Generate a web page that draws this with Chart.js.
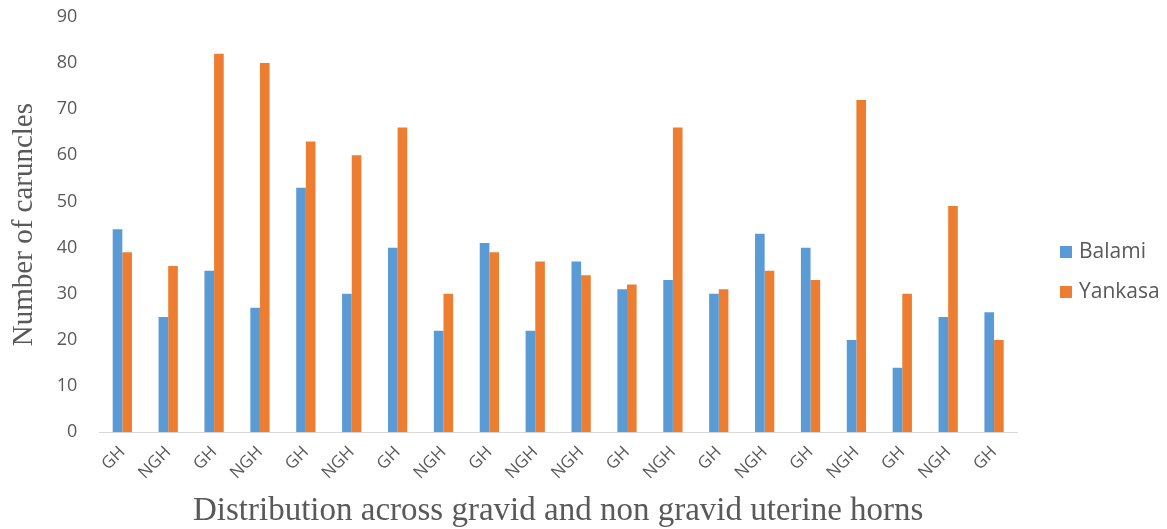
<!DOCTYPE html>
<html>
<head>
<meta charset="utf-8">
<script src="https://cdn.jsdelivr.net/npm/chart.js@4.4.0/dist/chart.umd.min.js"></script>
<style>
  html, body { margin: 0; padding: 0; background: #fff; overflow: hidden; }
  #wrap { position: relative; width: 1167px; height: 529px; overflow: hidden; }
  #chart { position: absolute; left: 0; top: -8px; }
  #legend { position: absolute; left: 1060px; top: 236px; font-family: "Open Sans", sans-serif; font-size: 21px; color: #595959; }
  #legend div { height: 40px; line-height: 28px; white-space: nowrap; }
  #legend span.box { display: inline-block; width: 12px; height: 12px; margin-right: 7px; vertical-align: 0px; }
</style>
</head>
<body>
<div id="wrap">
  <canvas id="chart" width="1167" height="539"></canvas>
  <div id="legend"></div>
</div>
<script>
// categories along the x axis
var categories = ['GH', 'NGH', 'GH', 'NGH', 'GH', 'NGH', 'GH', 'NGH', 'GH', 'NGH',
                  'NGH', 'GH', 'NGH', 'GH', 'NGH', 'GH', 'NGH', 'GH', 'NGH', 'GH'];

// series values
var balami  = [44, 25, 35, 27, 53, 30, 40, 22, 41, 22, 37, 31, 33, 30, 43, 40, 20, 14, 25, 26];
var yankasa = [39, 36, 82, 80, 63, 60, 66, 30, 39, 37, 34, 32, 66, 31, 35, 33, 72, 30, 49, 20];

var seriesNames = ['Balami', 'Yankasa'];
var seriesColors = ['#5B9BD5', '#ED7D31'];

var yTicks = [0, 10, 20, 30, 40, 50, 60, 70, 80, 90];

function buildLegend() {
    var legend = document.getElementById('legend');
    for (var i = 0; i < seriesNames.length; i++) {
        var row = document.createElement('div');
        var box = document.createElement('span');
        box.className = 'box';
        box.style.background = seriesColors[i];
        row.appendChild(box);
        row.appendChild(document.createTextNode(seriesNames[i]));
        legend.appendChild(row);
    }
}

function drawChart() {
    var ctx = document.getElementById('chart').getContext('2d');
    var tickColor = '#595959';

    new Chart(ctx, {
        type: 'bar',
        data: {
            labels: categories,
            datasets: [
                { label: seriesNames[0], data: balami, backgroundColor: seriesColors[0] },
                { label: seriesNames[1], data: yankasa, backgroundColor: seriesColors[1] }
            ]
        },
        options: {
            responsive: false,
            animation: false,
            devicePixelRatio: 1,
            layout: { padding: { left: 7, right: 150, top: 0, bottom: 0 } },
            datasets: {
                bar: { categoryPercentage: 0.42, barPercentage: 1.0 }
            },
            plugins: {
                legend: { display: false },
                tooltip: { enabled: false }
            },
            scales: {
                x: {
                    grid: { display: false },
                    border: { color: '#d9d9d9', width: 1 },
                    ticks: {
                        color: tickColor,
                        font: { family: 'Open Sans', size: 17 },
                        minRotation: 45,
                        maxRotation: 45,
                        padding: 2,
                        autoSkip: false
                    },
                    title: {
                        display: true,
                        text: 'Distribution across gravid and non gravid uterine horns',
                        color: tickColor,
                        font: { family: 'Liberation Serif', size: 33 },
                        padding: { top: 6, bottom: 0 }
                    }
                },
                y: {
                    min: 0,
                    max: 90,
                    afterBuildTicks: function(axis) {
                        axis.ticks = yTicks.map(function(v) { return { value: v }; });
                    },
                    grid: { display: false },
                    border: { display: false },
                    ticks: {
                        color: tickColor,
                        font: { family: 'Open Sans', size: 18 },
                        padding: 14
                    },
                    title: {
                        display: true,
                        text: 'Number of caruncles',
                        color: tickColor,
                        font: { family: 'Liberation Serif', size: 29 },
                        padding: { top: 0, bottom: 1 }
                    }
                }
            }
        }
    });
}

buildLegend();
drawChart();
</script>
</body>
</html>
